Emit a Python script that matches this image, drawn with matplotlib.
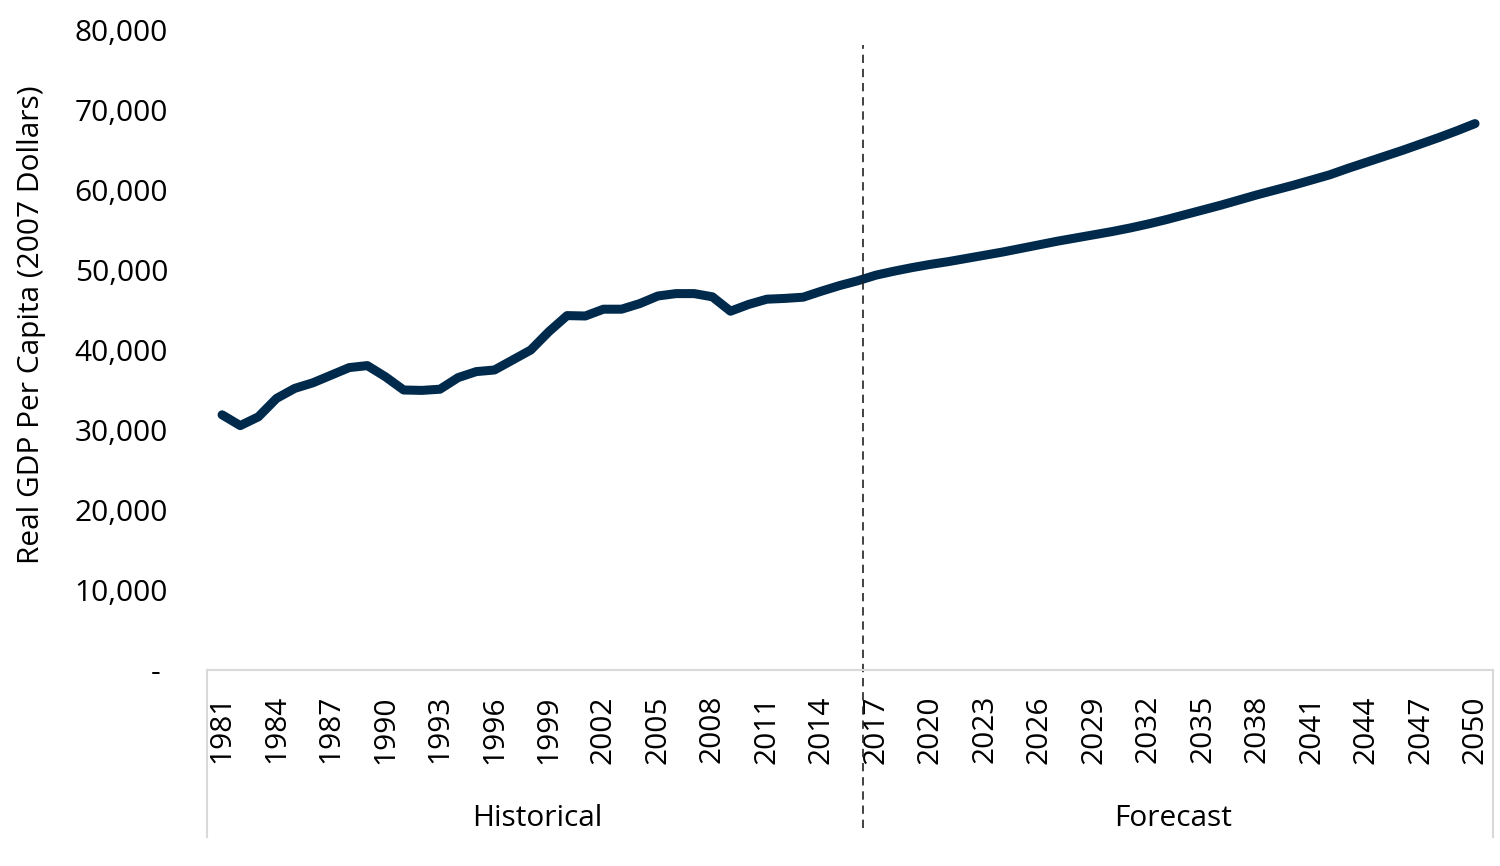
import numpy as np
import matplotlib
matplotlib.use("Agg")
import matplotlib.pyplot as plt

plt.rcParams['font.family'] = ['Open Sans', 'DejaVu Sans']

years = list(range(1981, 2051))
gdp_hist = [31900, 30550, 31650, 33950, 35200, 35900, 36850, 37800, 38050, 36650,
            35000, 34950, 35100, 36550, 37300, 37500, 38750, 40000, 42300, 44300,
            44250, 45100, 45100, 45800, 46750, 47050, 47050, 46650, 44850, 45700,
            46350, 46450, 46600, 47350, 48050, 48650]
gdp_fcst = [49350, 49850, 50300, 50700, 51050, 51450, 51850, 52250, 52700, 53150,
            53600, 54000, 54400, 54800, 55250, 55750, 56300, 56900, 57500, 58100,
            58750, 59400, 60000, 60600, 61250, 61900, 62700, 63450, 64200, 64950,
            65750, 66550, 67400, 68300]
gdp = gdp_hist + gdp_fcst
groups = ["Historical", "Forecast"]
yticks = [0, 10000, 20000, 30000, 40000, 50000, 60000, 70000, 80000]

navy = '#002A4C'
grey = '#D9D9D9'
fs = 21.5

fig = plt.figure(figsize=(15, 8.66), dpi=100)
ax = fig.add_axes([207 / 1500, 1 - 670 / 866, (1493 - 207) / 1500, 640 / 866])

x = np.arange(len(years))
ax.plot(x, gdp, color=navy, lw=6.5, solid_capstyle='round', solid_joinstyle='round')

ax.set_ylim(0, 80000)
ax.set_yticks(yticks)
ax.set_yticklabels(['- '] + [f'{v:,}' for v in yticks[1:]], fontsize=fs)
ax.set_ylabel('Real GDP Per Capita (2007 Dollars)', fontsize=fs)
ax.yaxis.set_label_coords(-0.125, 0.54)

ax.set_xlim(-0.83, 69.99)
ax.set_xticks(x[::3])
ax.set_xticklabels([str(y) for y in years[::3]], rotation=90, fontsize=fs)
ax.tick_params(axis='both', length=0)
ax.tick_params(axis='y', pad=28)
ax.tick_params(axis='x', pad=18)

for s in ['top', 'right', 'left']:
    ax.spines[s].set_visible(False)
ax.spines['bottom'].set_color(grey)
ax.spines['bottom'].set_linewidth(1.5)

# group brackets under the axis
split = 35.3
for xa in [0, 1]:
    ax.plot([xa, xa], [0, -0.261], transform=ax.transAxes, color=grey, lw=1.5, clip_on=False)
ax.axvline(split, ymin=-0.247, ymax=0.977, color='#222222', lw=1.2,
           linestyle=(0, (5, 3.5)), clip_on=False)

lo, hi = ax.get_xlim()
ax.text((lo + split) / 2 + 0.15, -0.232, groups[0], transform=ax.get_xaxis_transform(),
        ha='center', va='center', fontsize=fs)
ax.text((split + hi) / 2 - 0.25, -0.232, groups[1], transform=ax.get_xaxis_transform(),
        ha='center', va='center', fontsize=fs)

fig.savefig('out.png', dpi=100)
